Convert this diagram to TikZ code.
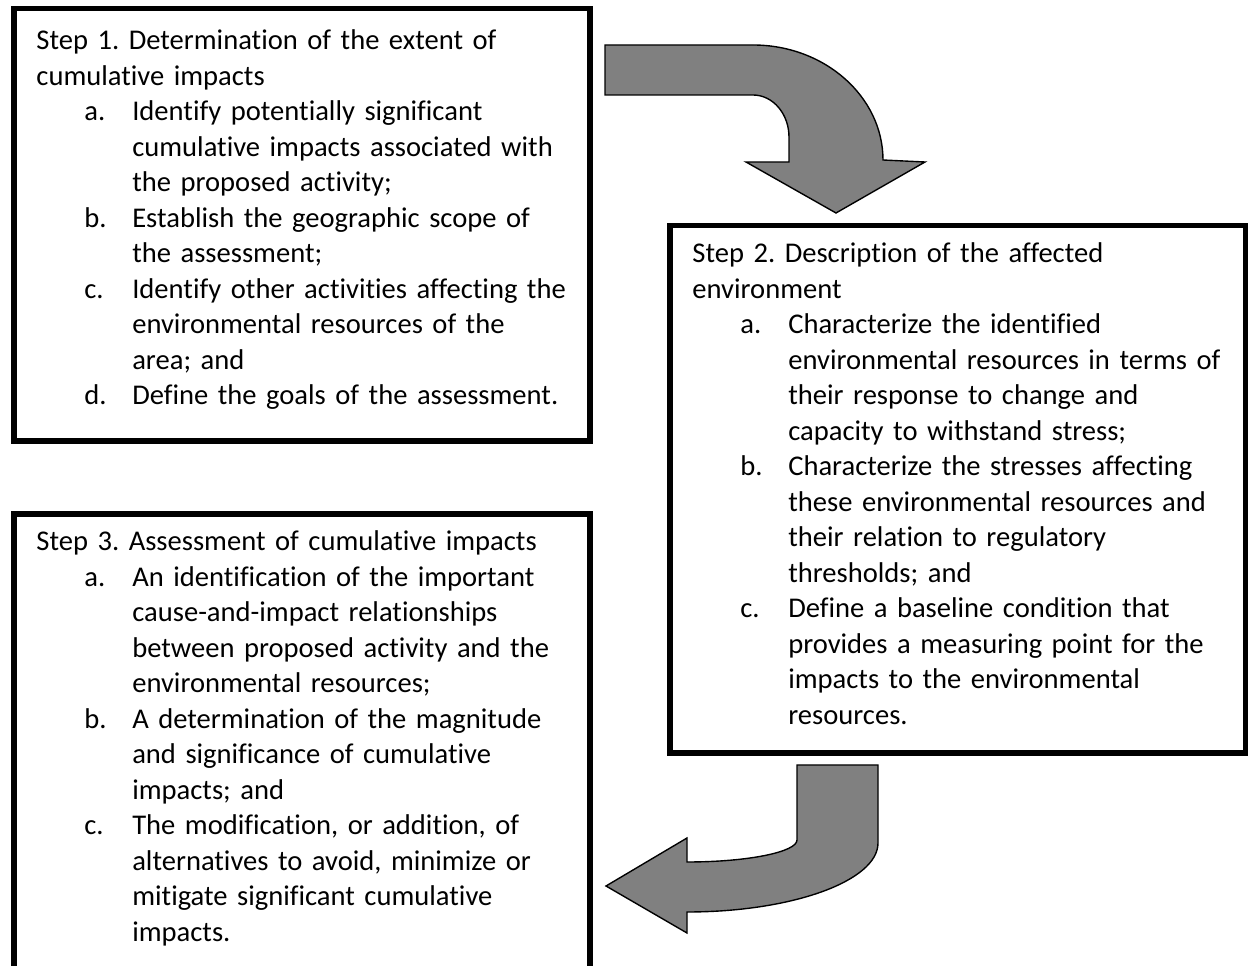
\documentclass[tikz,border=0pt]{standalone}
\usepackage{fontspec}
\setmainfont{Carlito}[Ligatures={NoCommon}]
\usepackage{tikz}
\usetikzlibrary{positioning, calc}

\newlength{\itemind}
\setlength{\itemind}{20.8pt}
\newcommand{\stepitem}[1]{\hspace*{\itemind}\makebox[\itemind][l]{#1}}
\newcommand{\stepcont}{\hspace*{2\itemind}}

\begin{document}
\frenchspacing
\begin{tikzpicture}[x=0.434pt, y=-0.434pt,
    stepframe/.style={draw=black, line width=2.4pt},
    steptext/.style={anchor=base west, inner sep=0pt, text width=270pt, align=left,
        font=\fontsize{12.4}{15.4}\selectfont},
    bentarrow/.style={draw=black, fill=black!50, line width=0.6pt, line join=miter}
]
\useasboundingbox (0,0) rectangle (1248,966);
% Frames
\draw[stepframe] (14,8.5) rectangle (590,441);
\draw[stepframe] (670,225.5) rectangle (1245.5,753);
\draw[stepframe] (14,1000) -- (14,514) -- (590,514) -- (590,1000);
% Step texts
\node[steptext] (step1) at (36,50) {Step 1. Determination of the extent of\\
cumulative impacts\\
\stepitem{a.}Identify potentially significant\\
\stepcont cumulative impacts associated with\\
\stepcont the proposed activity;\\
\stepitem{b.}Establish the geographic scope of\\
\stepcont the assessment;\\
\stepitem{c.}Identify other activities affecting the\\
\stepcont environmental resources of the\\
\stepcont area; and\\
\stepitem{d.}Define the goals of the assessment.};
\node[steptext] (step2) at (692,263) {Step 2. Description of the affected\\
environment\\
\stepitem{a.}Characterize the identified\\
\stepcont environmental resources in terms of\\
\stepcont their response to change and\\
\stepcont capacity to withstand stress;\\
\stepitem{b.}Characterize the stresses affecting\\
\stepcont these environmental resources and\\
\stepcont their relation to regulatory\\
\stepcont thresholds; and\\
\stepitem{c.}Define a baseline condition that\\
\stepcont provides a measuring point for the\\
\stepcont impacts to the environmental\\
\stepcont resources.};
\node[steptext] (step3) at (36,551) {Step 3. Assessment of cumulative impacts\\
\stepitem{a.}An identification of the important\\
\stepcont cause-and-impact relationships\\
\stepcont between proposed activity and the\\
\stepcont environmental resources;\\
\stepitem{b.}A determination of the magnitude\\
\stepcont and significance of cumulative\\
\stepcont impacts; and\\
\stepitem{c.}The modification, or addition, of\\
\stepcont alternatives to avoid, minimize or\\
\stepcont mitigate significant cumulative\\
\stepcont impacts.};
% Arrow from step 1 to step 2
\draw[bentarrow] (605,45) -- (753,45) .. controls (825,45) and (883,97) .. (883,160)
    -- (925,162) -- (836,213) -- (746,162) -- (789,162) -- (789,137)
    .. controls (789,114) and (773,95) .. (753,95) -- (605,95) -- cycle;
% Arrow from step 2 to step 3
\draw[bentarrow] (797,765) -- (878,765) -- (878,843) .. controls (878,881) and (792,912) .. (687,912)
    -- (687,933) -- (606,886) -- (687,838) -- (687,862)
    .. controls (748,862) and (797,852) .. (797,840) -- cycle;
\end{tikzpicture}
\end{document}
